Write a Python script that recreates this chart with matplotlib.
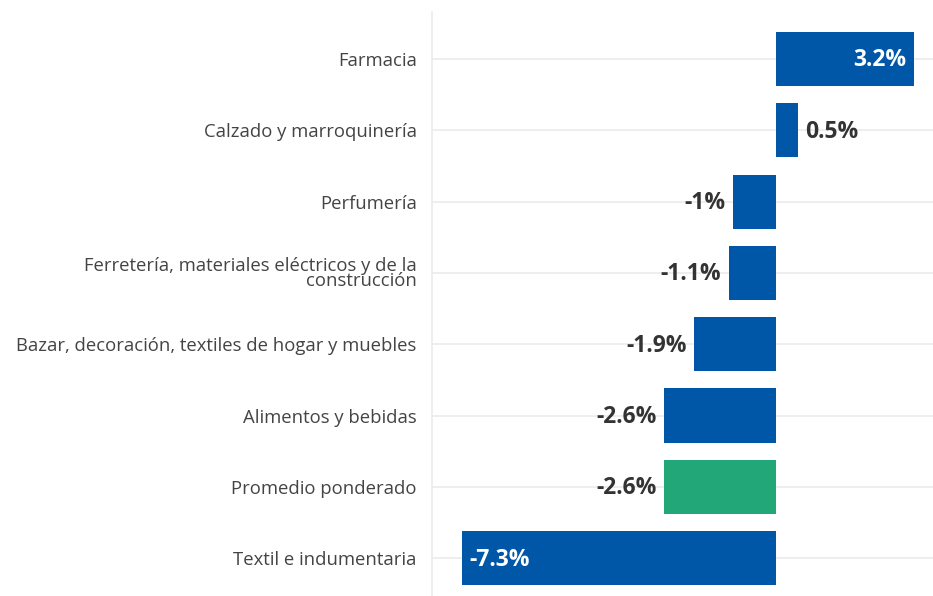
import matplotlib.pyplot as plt

categories = ['Farmacia', 'Calzado y marroquinería', 'Perfumería',
              'Ferretería, materiales eléctricos y de la\nconstrucción',
              'Bazar, decoración, textiles de hogar y muebles',
              'Alimentos y bebidas', 'Promedio ponderado', 'Textil e indumentaria']
values = [3.2, 0.5, -1.0, -1.1, -1.9, -2.6, -2.6, -7.3]
labels = ['3.2%', '0.5%', '-1%', '-1.1%', '-1.9%', '-2.6%', '-2.6%', '-7.3%']
inside = [True, False, False, False, False, False, False, True]

blue = '#0057a8'
green = '#22a878'
colors = [green if c == 'Promedio ponderado' else blue for c in categories]

plt.rcParams['font.family'] = ['Open Sans', 'DejaVu Sans']

fig = plt.figure(figsize=(9.33, 5.96), dpi=100)
ax = fig.add_axes([0.463, 0.0, 0.537, 0.98])

y = list(range(len(categories)))
for yi in y:
    ax.axhline(yi, color='#ebebeb', lw=1.2, zorder=0)
ax.barh(y, values, height=0.76, color=colors, zorder=2)

for yi, v, lab, ins in zip(y, values, labels, inside):
    if ins:
        if v > 0:
            ax.text(v - 0.16, yi + 0.02, lab, ha='right', va='center', color='white',
                    fontsize=16.5, fontweight='bold', zorder=3)
        else:
            ax.text(v + 0.16, yi + 0.02, lab, ha='left', va='center', color='white',
                    fontsize=16.5, fontweight='bold', zorder=3)
    else:
        if v > 0:
            ax.text(v + 0.18, yi + 0.02, lab, ha='left', va='center', color='#333333',
                    fontsize=16.5, fontweight='bold', zorder=3)
        else:
            ax.text(v - 0.18, yi + 0.02, lab, ha='right', va='center', color='#333333',
                    fontsize=16.5, fontweight='bold', zorder=3)

ax.set_xlim(-8.0, 3.65)
ax.set_ylim(7.53, -0.66)
ax.set_yticks(y)
ax.set_yticklabels(categories, fontsize=13.3, color='#444444', linespacing=0.8)
ax.tick_params(axis='y', length=0, pad=11)
ax.set_xticks([])
for s in ['top', 'right', 'bottom']:
    ax.spines[s].set_visible(False)
ax.spines['left'].set_color('#ebebeb')
ax.spines['left'].set_linewidth(1.2)

fig.savefig('out.png', dpi=100)
